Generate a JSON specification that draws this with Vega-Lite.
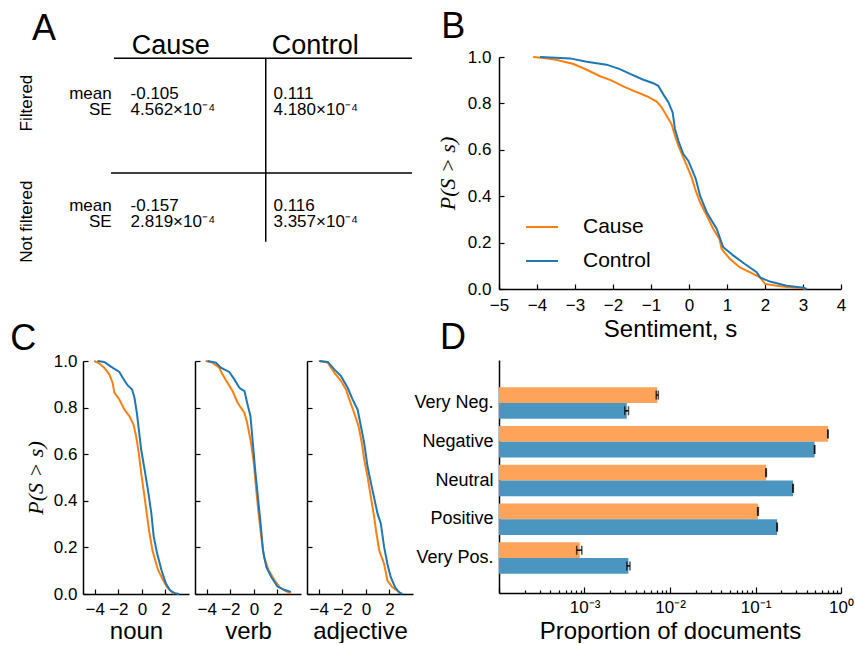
{
  "$schema": "https://vega.github.io/schema/vega-lite/v6.json",
  "padding": {"left": 10, "top": 9, "right": 0, "bottom": 0},
  "background": "white",
  "config": {
    "font": "Liberation Sans",
    "view": {"stroke": null},
    "axis": {"grid": false, "domainColor": "black", "domainWidth": 1.5, "tickColor": "black", "tickWidth": 1.2, "tickSize": -5, "labelColor": "black", "labelFontSize": 17, "labelPadding": 13, "labelFlush": false, "titleColor": "black", "titleFontSize": 24, "titleFontWeight": "normal", "minExtent": 0, "labelFont": "Liberation Sans", "titleFont": "Liberation Sans"},
    "title": {"fontSize": 36, "fontWeight": "normal", "anchor": "start", "color": "black", "font": "Liberation Sans"},
    "legend": {"labelFont": "Liberation Sans"}
  },
  "datasets": {
    "tabRules": [{"col": 1.88, "col2": 20, "row": 0.11, "row2": 0.11}, {"col": 1.70, "col2": 20, "row": 10, "row2": 10}, {"col": 11.11, "col2": 11.11, "row": 0.11, "row2": 15.92}],
    "tabHead": [{"col": 2.96, "row": -0.26, "t": "Cause"}, {"col": 11.47, "row": -0.26, "t": "Control"}],
    "tabStat": [{"col": 1.745, "row": 3.62, "t": "mean"}, {"col": 1.745, "row": 5.0, "t": "SE"}, {"col": 1.745, "row": 13.25, "t": "mean"}, {"col": 1.745, "row": 14.68, "t": "SE"}],
    "tabVal": [
      {"col": 2.89, "row": 3.62, "t": "-0.105"}, {"col": 2.89, "row": 5.0, "t": "4.562×10⁻⁴"},
      {"col": 11.58, "row": 3.62, "t": "0.111"}, {"col": 11.58, "row": 5.0, "t": "4.180×10⁻⁴"},
      {"col": 2.89, "row": 13.25, "t": "-0.157"}, {"col": 2.89, "row": 14.68, "t": "2.819×10⁻⁴"},
      {"col": 11.58, "row": 13.25, "t": "0.116"}, {"col": 11.58, "row": 14.68, "t": "3.357×10⁻⁴"}
    ],
    "tabGroup": [{"col": -3.40, "row": 3.97, "t": "Filtered"}, {"col": -3.40, "row": 14.2, "t": "Not filtered"}],
    "cdfB": [
      {"g": "Cause", "s": -4.10, "p": 1.0}, {"g": "Cause", "s": -3.83, "p": 0.996}, {"g": "Cause", "s": -3.5, "p": 0.988}, {"g": "Cause", "s": -3.04, "p": 0.970}, {"g": "Cause", "s": -2.69, "p": 0.945}, {"g": "Cause", "s": -2.34, "p": 0.917}, {"g": "Cause", "s": -2.03, "p": 0.898}, {"g": "Cause", "s": -1.73, "p": 0.873}, {"g": "Cause", "s": -1.47, "p": 0.855}, {"g": "Cause", "s": -1.11, "p": 0.831}, {"g": "Cause", "s": -0.85, "p": 0.808}, {"g": "Cause", "s": -0.72, "p": 0.783}, {"g": "Cause", "s": -0.59, "p": 0.747}, {"g": "Cause", "s": -0.46, "p": 0.711}, {"g": "Cause", "s": -0.37, "p": 0.661}, {"g": "Cause", "s": -0.28, "p": 0.618}, {"g": "Cause", "s": -0.15, "p": 0.567}, {"g": "Cause", "s": -0.02, "p": 0.517}, {"g": "Cause", "s": 0.07, "p": 0.481}, {"g": "Cause", "s": 0.16, "p": 0.431}, {"g": "Cause", "s": 0.29, "p": 0.374}, {"g": "Cause", "s": 0.47, "p": 0.316}, {"g": "Cause", "s": 0.64, "p": 0.259}, {"g": "Cause", "s": 0.80, "p": 0.216}, {"g": "Cause", "s": 0.86, "p": 0.172}, {"g": "Cause", "s": 1.08, "p": 0.129}, {"g": "Cause", "s": 1.34, "p": 0.093}, {"g": "Cause", "s": 1.69, "p": 0.065}, {"g": "Cause", "s": 1.87, "p": 0.050}, {"g": "Cause", "s": 2.0, "p": 0.022}, {"g": "Cause", "s": 2.31, "p": 0.014}, {"g": "Cause", "s": 2.57, "p": 0.009}, {"g": "Cause", "s": 3.01, "p": 0.003}, {"g": "Cause", "s": 3.05, "p": 0.0},
      {"g": "Control", "s": -3.92, "p": 1.0}, {"g": "Control", "s": -3.5, "p": 0.997}, {"g": "Control", "s": -3.13, "p": 0.994}, {"g": "Control", "s": -2.69, "p": 0.980}, {"g": "Control", "s": -2.17, "p": 0.967}, {"g": "Control", "s": -1.82, "p": 0.948}, {"g": "Control", "s": -1.55, "p": 0.927}, {"g": "Control", "s": -1.20, "p": 0.902}, {"g": "Control", "s": -0.94, "p": 0.887}, {"g": "Control", "s": -0.81, "p": 0.876}, {"g": "Control", "s": -0.68, "p": 0.840}, {"g": "Control", "s": -0.54, "p": 0.804}, {"g": "Control", "s": -0.43, "p": 0.761}, {"g": "Control", "s": -0.37, "p": 0.690}, {"g": "Control", "s": -0.28, "p": 0.639}, {"g": "Control", "s": -0.15, "p": 0.582}, {"g": "Control", "s": -0.02, "p": 0.553}, {"g": "Control", "s": 0.11, "p": 0.503}, {"g": "Control", "s": 0.18, "p": 0.474}, {"g": "Control", "s": 0.29, "p": 0.402}, {"g": "Control", "s": 0.47, "p": 0.330}, {"g": "Control", "s": 0.73, "p": 0.259}, {"g": "Control", "s": 0.90, "p": 0.180}, {"g": "Control", "s": 1.17, "p": 0.144}, {"g": "Control", "s": 1.47, "p": 0.108}, {"g": "Control", "s": 1.78, "p": 0.072}, {"g": "Control", "s": 1.87, "p": 0.050}, {"g": "Control", "s": 2.13, "p": 0.032}, {"g": "Control", "s": 2.57, "p": 0.014}, {"g": "Control", "s": 3.01, "p": 0.006}, {"g": "Control", "s": 3.1, "p": 0.0}
    ],
    "cdfC": [
      {"pos": "noun", "g": "Cause", "s": -4.06, "p": 1.0}, {"pos": "noun", "g": "Cause", "s": -3.63, "p": 0.99}, {"pos": "noun", "g": "Cause", "s": -3.2, "p": 0.971}, {"pos": "noun", "g": "Cause", "s": -2.77, "p": 0.943}, {"pos": "noun", "g": "Cause", "s": -2.49, "p": 0.907}, {"pos": "noun", "g": "Cause", "s": -2.34, "p": 0.864}, {"pos": "noun", "g": "Cause", "s": -1.91, "p": 0.835}, {"pos": "noun", "g": "Cause", "s": -1.49, "p": 0.792}, {"pos": "noun", "g": "Cause", "s": -1.06, "p": 0.763}, {"pos": "noun", "g": "Cause", "s": -0.71, "p": 0.727}, {"pos": "noun", "g": "Cause", "s": -0.49, "p": 0.677}, {"pos": "noun", "g": "Cause", "s": -0.26, "p": 0.605}, {"pos": "noun", "g": "Cause", "s": -0.06, "p": 0.519}, {"pos": "noun", "g": "Cause", "s": 0.14, "p": 0.448}, {"pos": "noun", "g": "Cause", "s": 0.37, "p": 0.362}, {"pos": "noun", "g": "Cause", "s": 0.6, "p": 0.275}, {"pos": "noun", "g": "Cause", "s": 0.89, "p": 0.189}, {"pos": "noun", "g": "Cause", "s": 1.37, "p": 0.103}, {"pos": "noun", "g": "Cause", "s": 1.8, "p": 0.06}, {"pos": "noun", "g": "Cause", "s": 2.14, "p": 0.029}, {"pos": "noun", "g": "Cause", "s": 2.51, "p": 0.01}, {"pos": "noun", "g": "Cause", "s": 2.71, "p": 0.0},
      {"pos": "noun", "g": "Control", "s": -3.77, "p": 1.0}, {"pos": "noun", "g": "Control", "s": -3.2, "p": 0.996}, {"pos": "noun", "g": "Control", "s": -2.63, "p": 0.976}, {"pos": "noun", "g": "Control", "s": -1.91, "p": 0.953}, {"pos": "noun", "g": "Control", "s": -1.63, "p": 0.928}, {"pos": "noun", "g": "Control", "s": -1.2, "p": 0.895}, {"pos": "noun", "g": "Control", "s": -0.83, "p": 0.878}, {"pos": "noun", "g": "Control", "s": -0.63, "p": 0.842}, {"pos": "noun", "g": "Control", "s": -0.43, "p": 0.778}, {"pos": "noun", "g": "Control", "s": -0.26, "p": 0.706}, {"pos": "noun", "g": "Control", "s": -0.06, "p": 0.62}, {"pos": "noun", "g": "Control", "s": 0.23, "p": 0.534}, {"pos": "noun", "g": "Control", "s": 0.51, "p": 0.448}, {"pos": "noun", "g": "Control", "s": 0.8, "p": 0.347}, {"pos": "noun", "g": "Control", "s": 1.0, "p": 0.247}, {"pos": "noun", "g": "Control", "s": 1.29, "p": 0.175}, {"pos": "noun", "g": "Control", "s": 1.66, "p": 0.103}, {"pos": "noun", "g": "Control", "s": 2.03, "p": 0.046}, {"pos": "noun", "g": "Control", "s": 2.37, "p": 0.017}, {"pos": "noun", "g": "Control", "s": 2.8, "p": 0.003}, {"pos": "noun", "g": "Control", "s": 3.17, "p": 0.0},
      {"pos": "verb", "g": "Cause", "s": -4.09, "p": 1.0}, {"pos": "verb", "g": "Cause", "s": -3.51, "p": 0.993}, {"pos": "verb", "g": "Cause", "s": -2.94, "p": 0.971}, {"pos": "verb", "g": "Cause", "s": -2.66, "p": 0.942}, {"pos": "verb", "g": "Cause", "s": -2.23, "p": 0.906}, {"pos": "verb", "g": "Cause", "s": -1.8, "p": 0.87}, {"pos": "verb", "g": "Cause", "s": -1.37, "p": 0.82}, {"pos": "verb", "g": "Cause", "s": -0.8, "p": 0.777}, {"pos": "verb", "g": "Cause", "s": -0.57, "p": 0.734}, {"pos": "verb", "g": "Cause", "s": -0.29, "p": 0.662}, {"pos": "verb", "g": "Cause", "s": 0.0, "p": 0.561}, {"pos": "verb", "g": "Cause", "s": 0.2, "p": 0.446}, {"pos": "verb", "g": "Cause", "s": 0.4, "p": 0.345}, {"pos": "verb", "g": "Cause", "s": 0.63, "p": 0.245}, {"pos": "verb", "g": "Cause", "s": 0.86, "p": 0.158}, {"pos": "verb", "g": "Cause", "s": 1.26, "p": 0.101}, {"pos": "verb", "g": "Cause", "s": 1.77, "p": 0.058}, {"pos": "verb", "g": "Cause", "s": 2.2, "p": 0.029}, {"pos": "verb", "g": "Cause", "s": 2.63, "p": 0.014}, {"pos": "verb", "g": "Cause", "s": 3.14, "p": 0.003},
      {"pos": "verb", "g": "Control", "s": -3.94, "p": 1.0}, {"pos": "verb", "g": "Control", "s": -3.23, "p": 0.993}, {"pos": "verb", "g": "Control", "s": -2.8, "p": 0.971}, {"pos": "verb", "g": "Control", "s": -2.09, "p": 0.953}, {"pos": "verb", "g": "Control", "s": -1.66, "p": 0.921}, {"pos": "verb", "g": "Control", "s": -1.23, "p": 0.885}, {"pos": "verb", "g": "Control", "s": -0.8, "p": 0.871}, {"pos": "verb", "g": "Control", "s": -0.57, "p": 0.82}, {"pos": "verb", "g": "Control", "s": -0.29, "p": 0.763}, {"pos": "verb", "g": "Control", "s": -0.09, "p": 0.647}, {"pos": "verb", "g": "Control", "s": 0.11, "p": 0.532}, {"pos": "verb", "g": "Control", "s": 0.34, "p": 0.417}, {"pos": "verb", "g": "Control", "s": 0.57, "p": 0.302}, {"pos": "verb", "g": "Control", "s": 0.77, "p": 0.187}, {"pos": "verb", "g": "Control", "s": 1.06, "p": 0.115}, {"pos": "verb", "g": "Control", "s": 1.49, "p": 0.072}, {"pos": "verb", "g": "Control", "s": 2.0, "p": 0.032}, {"pos": "verb", "g": "Control", "s": 2.63, "p": 0.017}, {"pos": "verb", "g": "Control", "s": 3.14, "p": 0.009},
      {"pos": "adjective", "g": "Cause", "s": -4.0, "p": 1.0}, {"pos": "adjective", "g": "Cause", "s": -3.24, "p": 0.993}, {"pos": "adjective", "g": "Cause", "s": -2.68, "p": 0.95}, {"pos": "adjective", "g": "Cause", "s": -2.11, "p": 0.914}, {"pos": "adjective", "g": "Cause", "s": -1.69, "p": 0.878}, {"pos": "adjective", "g": "Cause", "s": -1.41, "p": 0.835}, {"pos": "adjective", "g": "Cause", "s": -0.99, "p": 0.777}, {"pos": "adjective", "g": "Cause", "s": -0.62, "p": 0.719}, {"pos": "adjective", "g": "Cause", "s": -0.34, "p": 0.647}, {"pos": "adjective", "g": "Cause", "s": -0.14, "p": 0.576}, {"pos": "adjective", "g": "Cause", "s": 0.14, "p": 0.504}, {"pos": "adjective", "g": "Cause", "s": 0.42, "p": 0.417}, {"pos": "adjective", "g": "Cause", "s": 0.7, "p": 0.331}, {"pos": "adjective", "g": "Cause", "s": 0.9, "p": 0.259}, {"pos": "adjective", "g": "Cause", "s": 1.13, "p": 0.187}, {"pos": "adjective", "g": "Cause", "s": 1.55, "p": 0.129}, {"pos": "adjective", "g": "Cause", "s": 1.83, "p": 0.058}, {"pos": "adjective", "g": "Cause", "s": 2.25, "p": 0.029}, {"pos": "adjective", "g": "Cause", "s": 2.68, "p": 0.014}, {"pos": "adjective", "g": "Cause", "s": 2.96, "p": 0.003},
      {"pos": "adjective", "g": "Control", "s": -3.94, "p": 1.0}, {"pos": "adjective", "g": "Control", "s": -3.24, "p": 0.996}, {"pos": "adjective", "g": "Control", "s": -2.68, "p": 0.964}, {"pos": "adjective", "g": "Control", "s": -2.11, "p": 0.935}, {"pos": "adjective", "g": "Control", "s": -1.55, "p": 0.885}, {"pos": "adjective", "g": "Control", "s": -1.13, "p": 0.835}, {"pos": "adjective", "g": "Control", "s": -0.7, "p": 0.791}, {"pos": "adjective", "g": "Control", "s": -0.42, "p": 0.719}, {"pos": "adjective", "g": "Control", "s": -0.14, "p": 0.647}, {"pos": "adjective", "g": "Control", "s": 0.14, "p": 0.547}, {"pos": "adjective", "g": "Control", "s": 0.56, "p": 0.446}, {"pos": "adjective", "g": "Control", "s": 0.99, "p": 0.345}, {"pos": "adjective", "g": "Control", "s": 1.27, "p": 0.302}, {"pos": "adjective", "g": "Control", "s": 1.55, "p": 0.201}, {"pos": "adjective", "g": "Control", "s": 1.83, "p": 0.129}, {"pos": "adjective", "g": "Control", "s": 2.11, "p": 0.072}, {"pos": "adjective", "g": "Control", "s": 2.48, "p": 0.029}, {"pos": "adjective", "g": "Control", "s": 2.82, "p": 0.007}, {"pos": "adjective", "g": "Control", "s": 3.1, "p": 0.0}
    ],
    "props": [
      {"cat": "Very Neg.", "g": "Cause", "value": 0.0071, "lo": 0.0069, "hi": 0.0073},
      {"cat": "Very Neg.", "g": "Control", "value": 0.00312, "lo": 0.00296, "hi": 0.00327},
      {"cat": "Negative", "g": "Cause", "value": 0.703, "lo": 0.699, "hi": 0.707},
      {"cat": "Negative", "g": "Control", "value": 0.491, "lo": 0.488, "hi": 0.494},
      {"cat": "Neutral", "g": "Cause", "value": 0.133, "lo": 0.132, "hi": 0.134},
      {"cat": "Neutral", "g": "Control", "value": 0.275, "lo": 0.273, "hi": 0.277},
      {"cat": "Positive", "g": "Cause", "value": 0.107, "lo": 0.106, "hi": 0.108},
      {"cat": "Positive", "g": "Control", "value": 0.179, "lo": 0.178, "hi": 0.180},
      {"cat": "Very Pos.", "g": "Cause", "value": 0.00088, "lo": 0.00081, "hi": 0.00093},
      {"cat": "Very Pos.", "g": "Control", "value": 0.00326, "lo": 0.00313, "hi": 0.0034}
    ]
  },
  "resolve": {"scale": {"color": "independent"}, "legend": {"color": "independent"}},
  "spacing": 0,
  "hconcat": [
    {
      "spacing": 32,
      "resolve": {"scale": {"color": "independent"}, "legend": {"color": "independent"}},
      "vconcat": [
        {
          "width": 329, "height": 232,
          "title": {"text": "A", "dx": 14, "offset": -16},
          "layer": [
            {"data": {"name": "tabRules"}, "mark": {"type": "rule", "color": "black", "strokeWidth": 1.5},
             "encoding": {"x": {"field": "col", "type": "quantitative", "scale": {"domain": [0, 20]}, "axis": null}, "x2": {"field": "col2"},
                          "y": {"field": "row", "type": "quantitative", "scale": {"domain": [0, 20], "reverse": true}, "axis": null}, "y2": {"field": "row2"}}},
            {"data": {"name": "tabHead"}, "mark": {"type": "text", "align": "left", "baseline": "alphabetic", "fontSize": 27, "color": "black"},
             "encoding": {"x": {"field": "col", "type": "quantitative"}, "y": {"field": "row", "type": "quantitative"}, "text": {"field": "t"}}},
            {"data": {"name": "tabStat"}, "mark": {"type": "text", "align": "right", "baseline": "alphabetic", "fontSize": 17, "color": "black"},
             "encoding": {"x": {"field": "col", "type": "quantitative"}, "y": {"field": "row", "type": "quantitative"}, "text": {"field": "t"}}},
            {"data": {"name": "tabVal"}, "mark": {"type": "text", "align": "left", "baseline": "alphabetic", "fontSize": 17, "color": "black"},
             "encoding": {"x": {"field": "col", "type": "quantitative"}, "y": {"field": "row", "type": "quantitative"}, "text": {"field": "t"}}},
            {"data": {"name": "tabGroup"}, "mark": {"type": "text", "align": "center", "baseline": "middle", "angle": 270, "fontSize": 17, "color": "black"},
             "encoding": {"x": {"field": "col", "type": "quantitative"}, "y": {"field": "row", "type": "quantitative"}, "text": {"field": "t"}}}
          ]
        },
        {
          "spacing": 5,
          "hconcat": [
            {
              "width": 106, "height": 233,
              "title": {"text": "C", "dx": -14, "offset": -6},
              "data": {"name": "cdfC"},
              "transform": [{"filter": "datum.pos === 'noun'"}],
              "mark": {"type": "line", "strokeWidth": 2},
              "encoding": {
                "x": {"field": "s", "type": "quantitative", "scale": {"domain": [-5, 4], "nice": false}, "axis": {"values": [-4, -2, 0, 2], "title": "noun", "labelPadding": 12, "titlePadding": 2}},
                "y": {"field": "p", "type": "quantitative", "scale": {"domain": [0, 1]}, "axis": {"values": [0, 0.2, 0.4, 0.6, 0.8, 1], "format": ".1f", "title": "P(S > s)", "titleFont": "Liberation Serif", "titleFontStyle": "italic", "titleFontSize": 22, "labelPadding": 11, "titlePadding": 6}},
                "color": {"field": "g", "type": "nominal", "scale": {"domain": ["Cause", "Control"], "range": ["#ff7f0e", "#1f77b4"]}, "legend": null}
              }
            },
            {
              "width": 106, "height": 233,
              "data": {"name": "cdfC"},
              "transform": [{"filter": "datum.pos === 'verb'"}],
              "mark": {"type": "line", "strokeWidth": 2},
              "encoding": {
                "x": {"field": "s", "type": "quantitative", "scale": {"domain": [-5, 4], "nice": false}, "axis": {"values": [-4, -2, 0, 2], "title": "verb", "labelPadding": 12, "titlePadding": 2}},
                "y": {"field": "p", "type": "quantitative", "scale": {"domain": [0, 1]}, "axis": {"values": [0, 0.2, 0.4, 0.6, 0.8, 1], "labels": false, "title": null}},
                "color": {"field": "g", "type": "nominal", "scale": {"domain": ["Cause", "Control"], "range": ["#ff7f0e", "#1f77b4"]}, "legend": null}
              }
            },
            {
              "width": 106, "height": 233,
              "data": {"name": "cdfC"},
              "transform": [{"filter": "datum.pos === 'adjective'"}],
              "mark": {"type": "line", "strokeWidth": 2},
              "encoding": {
                "x": {"field": "s", "type": "quantitative", "scale": {"domain": [-5, 4], "nice": false}, "axis": {"values": [-4, -2, 0, 2], "title": "adjective", "labelPadding": 12, "titlePadding": 2}},
                "y": {"field": "p", "type": "quantitative", "scale": {"domain": [0, 1]}, "axis": {"values": [0, 0.2, 0.4, 0.6, 0.8, 1], "labels": false, "title": null}},
                "color": {"field": "g", "type": "nominal", "scale": {"domain": ["Cause", "Control"], "range": ["#ff7f0e", "#1f77b4"]}, "legend": null}
              }
            }
          ]
        }
      ]
    },
    {
      "spacing": -21,
      "resolve": {"scale": {"color": "independent"}, "legend": {"color": "independent"}},
      "vconcat": [
        {
          "width": 342, "height": 232,
          "title": {"text": "B", "dx": 5, "offset": 2},
          "data": {"name": "cdfB"},
          "mark": {"type": "line", "strokeWidth": 2},
          "encoding": {
            "x": {"field": "s", "type": "quantitative", "scale": {"domain": [-5, 4], "nice": false}, "axis": {"values": [-5, -4, -3, -2, -1, 0, 1, 2, 3, 4], "title": "Sentiment, s", "titlePadding": 4}},
            "y": {"field": "p", "type": "quantitative", "scale": {"domain": [0, 1]}, "axis": {"values": [0, 0.2, 0.4, 0.6, 0.8, 1], "format": ".1f", "title": "P(S > s)", "titleFont": "Liberation Serif", "titleFontStyle": "italic", "titleFontSize": 22, "titlePadding": 8}},
            "color": {"field": "g", "type": "nominal", "scale": {"domain": ["Cause", "Control"], "range": ["#ff7f0e", "#1f77b4"]},
                      "legend": {"title": null, "orient": "none", "legendX": 26, "legendY": 153, "symbolType": "stroke", "symbolSize": 1024, "symbolStrokeWidth": 2, "labelFontSize": 21, "labelColor": "black", "labelOffset": 24, "rowPadding": 7}}
          }
        },
        {
          "width": 342, "height": 233,
          "title": {"text": "D", "dx": 26, "offset": 3},
          "data": {"name": "props"},
          "layer": [
            {
              "mark": {"type": "bar"},
              "encoding": {
                "y": {"field": "cat", "type": "nominal", "sort": ["Very Neg.", "Negative", "Neutral", "Positive", "Very Pos."], "scale": {"paddingInner": 0.19, "paddingOuter": 0.6, "align": 0.586}, "axis": {"title": null, "ticks": false, "labelFontSize": 18, "labelPadding": 6}},
                "yOffset": {"field": "g", "type": "nominal", "sort": ["Cause", "Control"], "scale": {"paddingInner": 0, "paddingOuter": 0}},
                "x": {"field": "value", "type": "quantitative", "scale": {"type": "log", "domain": [0.0001, 1], "nice": false},
                      "axis": {"title": "Proportion of documents", "titlePadding": 4, "labelPadding": 12,
                               "values": [0.0001, 0.0002, 0.0003, 0.0004, 0.0005, 0.0006, 0.0007, 0.0008, 0.0009, 0.001, 0.002, 0.003, 0.004, 0.005, 0.006, 0.007, 0.008, 0.009, 0.01, 0.02, 0.03, 0.04, 0.05, 0.06, 0.07, 0.08, 0.09, 0.1, 0.2, 0.3, 0.4, 0.5, 0.6, 0.7, 0.8, 0.9, 1],
                               "labelExpr": "datum.value == 0.001 ? '10⁻³' : datum.value == 0.01 ? '10⁻²' : datum.value == 0.1 ? '10⁻¹' : datum.value == 1 ? '10⁰' : ''",
                               "tickSize": {"condition": {"test": "indexof([0.0001, 0.001, 0.01, 0.1, 1], datum.value) >= 0", "value": -6}, "value": -3}}},
                "x2": {"datum": 0.0001},
                "color": {"field": "g", "type": "nominal", "scale": {"domain": ["Cause", "Control"], "range": ["#fda35a", "#4b96c0"]}, "legend": null}
              }
            },
            {
              "mark": {"type": "rule", "color": "black", "strokeWidth": 1.5},
              "encoding": {
                "y": {"field": "cat", "type": "nominal", "sort": ["Very Neg.", "Negative", "Neutral", "Positive", "Very Pos."]},
                "yOffset": {"field": "g", "type": "nominal", "sort": ["Cause", "Control"]},
                "x": {"field": "lo", "type": "quantitative"},
                "x2": {"field": "hi"}
              }
            },
            {
              "mark": {"type": "tick", "color": "black", "thickness": 1.5, "size": 9},
              "encoding": {
                "y": {"field": "cat", "type": "nominal", "sort": ["Very Neg.", "Negative", "Neutral", "Positive", "Very Pos."]},
                "yOffset": {"field": "g", "type": "nominal", "sort": ["Cause", "Control"]},
                "x": {"field": "lo", "type": "quantitative"}
              }
            },
            {
              "mark": {"type": "tick", "color": "black", "thickness": 1.5, "size": 9},
              "encoding": {
                "y": {"field": "cat", "type": "nominal", "sort": ["Very Neg.", "Negative", "Neutral", "Positive", "Very Pos."]},
                "yOffset": {"field": "g", "type": "nominal", "sort": ["Cause", "Control"]},
                "x": {"field": "hi", "type": "quantitative"}
              }
            }
          ]
        }
      ]
    }
  ]
}
